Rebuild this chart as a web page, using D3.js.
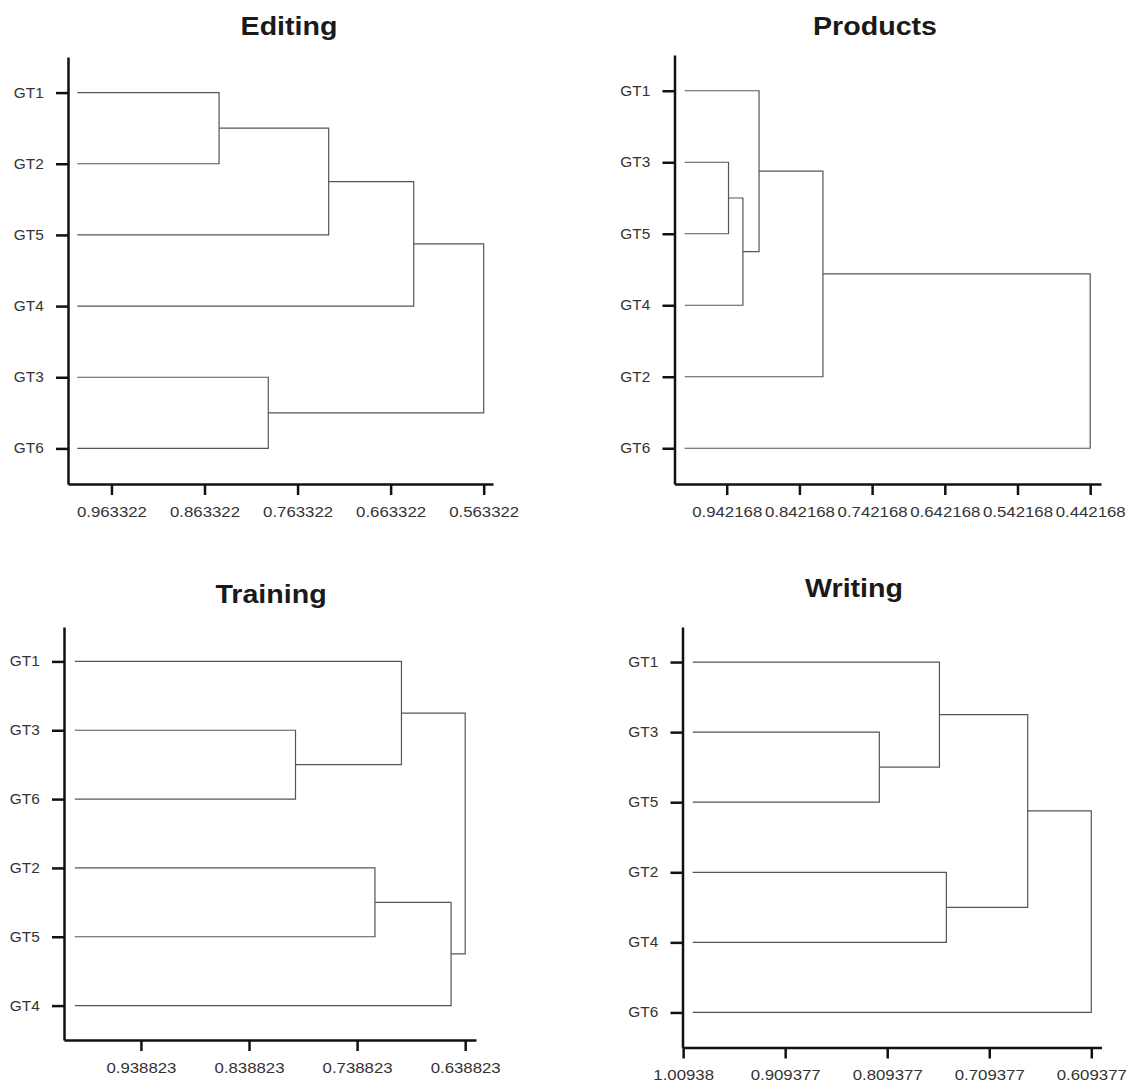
<!DOCTYPE html>
<meta charset="utf-8">
<script src="https://d3js.org/d3.v7.min.js"></script>
<style>
  * {margin: 0; padding: 0;}
  body {background: #fff;}
  .title {
    font-family: Arial, "Liberation Sans", Helvetica, sans-serif;
    font-weight: bold;
    font-size: 26px;
    fill: #1a1a1a;
  }
  .axis path, .axis line {
    stroke: #111;
    stroke-width: 2.5px;
  }
  .axis text {
    font-family: Arial, "Liberation Sans", Helvetica, sans-serif;
    font-size: 14px;
    fill: #333;
  }
  .link {
    fill: none;
    stroke: #555;
    stroke-width: 1.2px;
  }
</style>
<body>
<div id="chart"></div>
<script>

// leaf order, top to bottom
var editingLeaves  = ["GT1", "GT2", "GT5", "GT4", "GT3", "GT6"];
var productsLeaves = ["GT1", "GT3", "GT5", "GT4", "GT2", "GT6"];
var trainingLeaves = ["GT1", "GT3", "GT6", "GT2", "GT5", "GT4"];
var writingLeaves  = ["GT1", "GT3", "GT5", "GT2", "GT4", "GT6"];

// merges: [child a, child b, similarity]; a number means an earlier merge
var editingMerges  = [["GT1", "GT2", 0.8477], [0, "GT5", 0.7299], [1, "GT4", 0.6385], ["GT3", "GT6", 0.7948], [2, 3, 0.563322]];
var productsMerges = [["GT3", "GT5", 0.9397], [0, "GT4", 0.9199], ["GT1", 1, 0.8977], [2, "GT2", 0.8098], [3, "GT6", 0.442168]];
var trainingMerges = [["GT3", "GT6", 0.7958], ["GT1", 0, 0.6978], ["GT2", "GT5", 0.7223], [2, "GT4", 0.6519], [1, 3, 0.638823]];
var writingMerges  = [["GT3", "GT5", 0.8171], ["GT1", 0, 0.7582], ["GT2", "GT4", 0.7514], [1, 2, 0.6717], [3, "GT6", 0.609377]];

// similarity of a single leaf
var leafValue = 1.0;

// x axis ticks
var editingTicks  = [0.963322, 0.863322, 0.763322, 0.663322, 0.563322];
var productsTicks = [0.942168, 0.842168, 0.742168, 0.642168, 0.542168, 0.442168];
var trainingTicks = [0.938823, 0.838823, 0.738823, 0.638823];
var writingTicks  = [1.009377, 0.909377, 0.809377, 0.709377, 0.609377];

// x axis extent (left, right)
var editingDomain  = [1.01, 0.553322];
var productsDomain = [1.014, 0.4273];
var trainingDomain = [1.01, 0.628823];
var writingDomain  = [1.01, 0.599377];

var svg = d3.select("#chart")
  .append("svg")
    .attr("width", 1128)
    .attr("height", 1082);

// panel boxes in page pixels
var panels = [
  {title: "Editing",  leaves: editingLeaves,  merges: editingMerges,  ticks: editingTicks,  domain: editingDomain,
   left: 68, right: 493, top: 57, bottom: 484, tx: 289, ty: 35},
  {title: "Products", leaves: productsLeaves, merges: productsMerges, ticks: productsTicks, domain: productsDomain,
   left: 674.5, right: 1101, top: 55, bottom: 484, tx: 875, ty: 35},
  {title: "Training", leaves: trainingLeaves, merges: trainingMerges, ticks: trainingTicks, domain: trainingDomain,
   left: 64, right: 476, top: 627, bottom: 1040, tx: 271, ty: 603},
  {title: "Writing",  leaves: writingLeaves,  merges: writingMerges,  ticks: writingTicks,  domain: writingDomain,
   left: 682.5, right: 1101.5, top: 627, bottom: 1047.5, tx: 854, ty: 597}
];

panels.forEach(function(p) {
  var g = svg.append("g");

  var x = d3.scaleLinear().domain(p.domain).range([p.left, p.right]);
  var y = d3.scalePoint().domain(p.leaves).range([p.top, p.bottom]).padding(0.5);

  // resolve nodes
  var nodes = [];
  function node(ref) {
    if (typeof ref === "number") return nodes[ref];
    return {h: leafValue, y: y(ref)};
  }
  p.merges.forEach(function(m) {
    var a = node(m[0]), b = node(m[1]);
    nodes.push({a: a, b: b, h: m[2], y: (a.y + b.y) / 2});
  });

  // elbow links
  g.selectAll(".link")
    .data(nodes)
    .enter()
    .append("path")
      .attr("class", "link")
      .attr("d", function(d) {
        return "M" + x(d.a.h) + "," + d.a.y +
               "H" + x(d.h) +
               "V" + d.b.y +
               "H" + x(d.b.h);
      });

  // y axis
  var yAxis = g.append("g")
    .attr("class", "axis")
    .attr("transform", "translate(" + p.left + ",0)")
    .call(d3.axisLeft(y).tickSize(12).tickPadding(10).tickSizeOuter(0));
  yAxis.selectAll("text")
    .attr("transform", "scale(1.1,1)");

  // x axis
  var xAxis = g.append("g")
    .attr("class", "axis")
    .attr("transform", "translate(0," + p.bottom + ")")
    .call(d3.axisBottom(x)
      .tickValues(p.ticks)
      .tickFormat(d3.format(".6"))
      .tickSize(11)
      .tickPadding(12)
      .tickSizeOuter(0));
  xAxis.selectAll("text")
    .attr("transform", "scale(1.2,1)");

  // title
  g.append("text")
    .attr("class", "title")
    .attr("text-anchor", "middle")
    .attr("transform", "translate(" + p.tx + "," + p.ty + ") scale(1.1,1)")
    .text(p.title);
});

</script>
</body>
